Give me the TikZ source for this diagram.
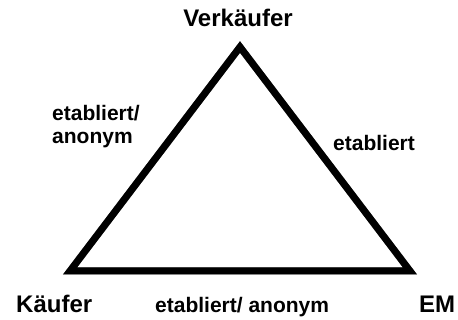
\documentclass[tikz,border=0pt]{standalone}
\usepackage{fontspec}
\setmainfont{Liberation Sans}
\begin{document}
\begin{tikzpicture}[x=1pt,y=-1pt,
  edge/.style={line width=7pt,line join=miter,black},
  shadowedge/.style={line width=7pt,line join=miter,color=black!50},
  title/.style={font=\fontsize{24}{28}\selectfont\bfseries,inner sep=0pt},
  lbl/.style={font=\fontsize{21}{23}\selectfont\bfseries,inner sep=0pt,align=left}]
\useasboundingbox[fill=white] (0,0) rectangle (458,320);
\coordinate (A) at (240,47);
\coordinate (B) at (70,271);
\coordinate (C) at (410,271);
\draw[shadowedge,shift={(2,2)}] (A) -- (B) -- (C) -- cycle;
\draw[edge] (A) -- (B) -- (C) -- cycle;
\node[title,anchor=base] (verk) at (238,27) {Verkäufer};
\node[title,anchor=base west] (kaeuf) at (16,313) {Käufer};
\node[title,anchor=base west] (em) at (419,313) {EM};
\node[lbl,anchor=base west] (l1) at (52,144) {etabliert/\\anonym};
\node[lbl,anchor=base west] (l2) at (333,151) {etabliert};
\node[lbl,anchor=base west] (l3) at (155,313) {etabliert/ anonym};
\end{tikzpicture}
\end{document}
